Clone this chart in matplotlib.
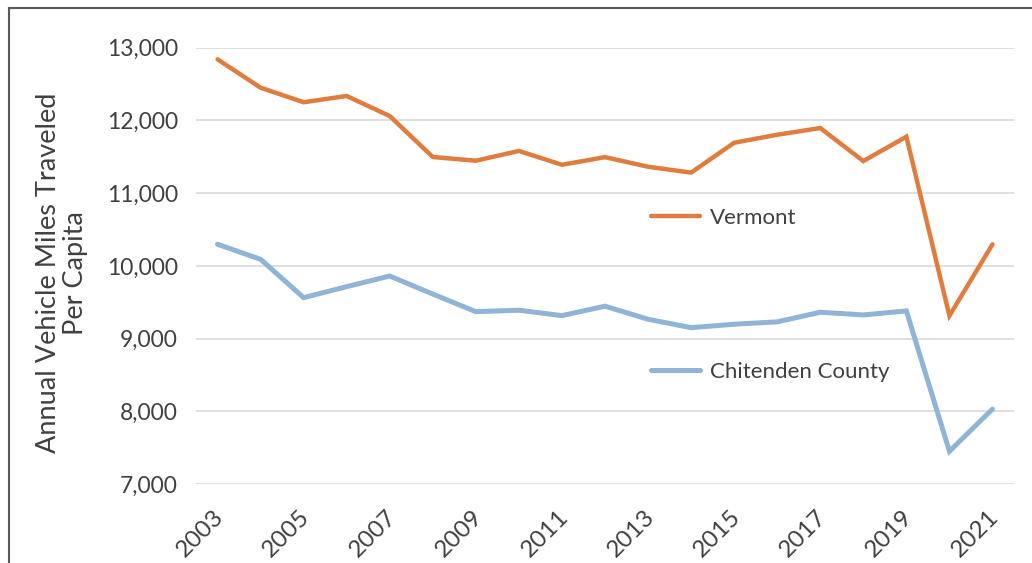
import matplotlib
matplotlib.use("Agg")
import matplotlib.pyplot as plt
from matplotlib.lines import Line2D
import matplotlib.transforms as mtransforms

years = list(range(2003, 2022))
vermont = [12840, 12450, 12250, 12336, 12060, 11497, 11446, 11580, 11390, 11495,
           11363, 11282, 11693, 11803, 11895, 11441, 11776, 9314, 10296]
chittenden = [10297, 10090, 9563, 9714, 9860, 9612, 9370, 9390, 9316, 9445,
              9266, 9150, 9197, 9230, 9362, 9325, 9380, 7450, 8030]
series_names = ["Vermont", "Chitenden County"]
tick_labels = [str(y) for y in years[::2]]
y_ticks = [7000, 8000, 9000, 10000, 11000, 12000, 13000]

W, H = 1032, 563
plt.rcParams['font.family'] = ['Lato', 'DejaVu Sans']
text_color = '#404040'
orange = '#E07C3E'
blue = '#8FB4D6'

fig = plt.figure(figsize=(W / 100, H / 100), dpi=100)
ax = fig.add_axes([196 / W, 1 - 484 / H, (1014 - 196) / W, (484 - 47.7) / H])

x = list(range(len(years)))
l1, = ax.plot(x, vermont, color=orange, lw=3.2, solid_capstyle='round', solid_joinstyle='miter', zorder=3)
l2, = ax.plot(x, chittenden, color=blue, lw=3.6, solid_capstyle='round', solid_joinstyle='miter', zorder=3)

ax.set_xlim(-0.5, len(years) - 0.5)
ax.set_ylim(7000, 13000)
ax.set_yticks(y_ticks)
ax.set_yticklabels([f"{v:,}" for v in y_ticks])
ax.set_xticks(x[::2])
ax.set_xticklabels(tick_labels, rotation=45, ha='right', va='center', rotation_mode='anchor')
ax.grid(axis='y', color='#D9D9D9', lw=1.2)
ax.set_axisbelow(True)
for s in ax.spines.values():
    s.set_visible(False)
ax.tick_params(axis='both', length=0, colors=text_color)
ax.tick_params(axis='y', pad=13, labelsize=16.5)
ax.tick_params(axis='x', pad=21, labelsize=17.5)
offset = mtransforms.ScaledTranslation(3 / 100, 0, fig.dpi_scale_trans)
for lab in ax.get_xticklabels():
    lab.set_transform(lab.get_transform() + offset)

fig.text(62 / W, 1 - 273 / H, "Annual Vehicle Miles Traveled\nPer Capita", rotation=90,
         ha='center', va='center', fontsize=19.5, color=text_color, linespacing=1.1)

leg1 = ax.legend([l1], [series_names[0]], loc='center left', bbox_to_anchor=(651 / W, 1 - 217.7 / H),
                 bbox_transform=fig.transFigure, frameon=False, fontsize=16, handlelength=2.2,
                 handletextpad=0.45, borderpad=0, borderaxespad=0, labelcolor=text_color)
ax.add_artist(leg1)
ax.legend([l2], [series_names[1]], loc='center left', bbox_to_anchor=(651 / W, 1 - 371.7 / H),
          bbox_transform=fig.transFigure, frameon=False, fontsize=16, handlelength=2.2,
          handletextpad=0.45, borderpad=0, borderaxespad=0, labelcolor=text_color)

fig.add_artist(Line2D([9 / W, 9 / W], [0, 1 - 8 / H], transform=fig.transFigure, color='#595959', lw=1.5))
fig.add_artist(Line2D([9 / W, 1], [1 - 8 / H, 1 - 8 / H], transform=fig.transFigure, color='#595959', lw=1.5))

fig.savefig("out.png", dpi=100, facecolor='white')
